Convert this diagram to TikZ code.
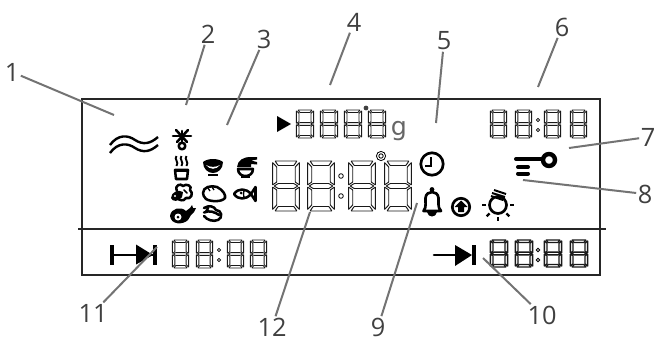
\documentclass[tikz,border=0pt]{standalone}
\usepackage{fontspec}
\setmainfont{Open Sans}
\newfontfamily\unitfont{DejaVu Sans}
\usetikzlibrary{calc}
\tikzset{
  callout/.style={text=black!75,font=\fontsize{19}{21}\selectfont,inner sep=1pt},
  leader/.style={draw=black!55,line width=1.5pt},
  seg/.style={draw=black!90,rounded corners=.3pt},
  ico/.style={line width=1.9pt,line cap=round,line join=round}
}
% one seven segment digit, #1 #2 top left corner, #3 #4 size, #5 line width
\newcommand{\lcddigit}[5]{
\begin{scope}[shift={(#1,#2)},xscale=#3,yscale=#4,seg,line width=#5]
\draw (.11,0) -- (.89,0) -- (.78,.09) -- (.22,.09) -- cycle;
\draw (.11,1) -- (.89,1) -- (.78,.91) -- (.22,.91) -- cycle;
\draw (.08,.5) -- (.22,.45) -- (.78,.45) -- (.92,.5) -- (.78,.55) -- (.22,.55) -- cycle;
\draw (.02,.03) -- (.17,.12) -- (.17,.42) -- (.02,.48) -- cycle;
\draw (.98,.03) -- (.83,.12) -- (.83,.42) -- (.98,.48) -- cycle;
\draw (.02,.97) -- (.17,.88) -- (.17,.58) -- (.02,.52) -- cycle;
\draw (.98,.97) -- (.83,.88) -- (.83,.58) -- (.98,.52) -- cycle;
\end{scope}}
\begin{document}
\begin{tikzpicture}[x=.75pt,y=-.75pt]
\useasboundingbox (0,0) rectangle (656,339);

% frame
\draw[line width=.9pt,black!85] (82,99) rectangle (600,275);

\draw[line width=2.1pt,black!85] (78,229) -- (606,229);

% digits
\foreach \x in {272,307,348,384} \lcddigit{\x}{161}{28}{50}{.7pt};

\foreach \x in {296,320,344,368} \lcddigit{\x}{110}{18}{28}{.65pt};

\foreach \x in {490,515,544,570} \lcddigit{\x}{110}{17}{28}{.65pt};

\foreach \x in {172,196,227,250} \lcddigit{\x}{240}{17}{28}{.65pt};

\foreach \x in {490,515,544,570} \lcddigit{\x}{240}{18}{27}{1pt};

% colons
\foreach \x/\y/\r in {341/176/2.3,341/196/2.3,538/120/1.6,538/130/1.6,219/250/1.6,219/260/1.6,538/250/1.7,538/260/1.7}
\draw[line width=.6pt] (\x,\y) circle (\r);

\draw[line width=.6pt] (381,156) circle (4.6);
\draw[line width=.6pt] (381,156) circle (2.2);

% weight line
\fill (277,116) -- (291,124) -- (277,132) -- cycle;

\fill[black!75] (366,108) circle (2.4);

\node(unit) at (399,131) [text=black!60,font=\unitfont\fontsize{19}{21}\selectfont,inner sep=0pt]{g};

% waves
\draw[line width=1.8pt] (110,145) .. controls (118,134) and (128,135) .. (135,140) .. controls (143,145) and (150,144) .. (158,137);
\draw[line width=1.8pt] (110,153) .. controls (118,142) and (128,143) .. (135,148) .. controls (143,153) and (150,152) .. (158,145);

% defrost
\draw[ico] (173,136) -- (191,136);
\draw[ico] (176,130) -- (187,142);
\draw[ico] (188,130) -- (177,142);
\draw[ico] (182,131) -- (182,142);
\draw[ico] (182,146) circle (3.300);

% steam cup
\draw[ico] (175,170) -- (188,170) -- (187,179) -- (176,179) -- cycle;
\draw[line width=2.600pt] (174,170.500) -- (189,170.500);
\foreach \x in {176.500,181.500,186.500}
\draw[line width=1.400pt] (\x,156) .. controls (\x-3,159) and (\x+3,162) .. (\x,166);

% bowl
\fill (203,162) .. controls (208,158) and (218,158) .. (223,162) .. controls (223,169) and (218,173) .. (213,173) .. controls (208,173) and (203,169) .. (203,162) -- cycle;
\fill[white] (206,165) .. controls (210,170) and (216,170) .. (220,165) .. controls (216,167.500) and (210,167.500) .. (206,165) -- cycle;
\fill (208,174) rectangle (218,176);

% noodle bowl
\fill (237,167) .. controls (238,160) and (243,157) .. (251,157) -- (257,157) -- (257,159.500) -- (251,160.500) -- (257,162) -- (257,164.500) -- (251,164) -- (251,167) -- cycle;
\draw[ico] (238,169) -- (253,169) .. controls (253,174) and (249,176) .. (245.500,176) .. controls (242,176) and (238,174) .. (238,169) -- cycle;
\fill (241,176) rectangle (250,178);

% broccoli
\draw[ico] (177,191) .. controls (174,185) and (181,183) .. (183,186) .. controls (186,183) and (193,186) .. (190,190) .. controls (194,193) and (191,200) .. (186,198) .. controls (184,202) and (178,200) .. (178,198);
\fill (171,198) .. controls (171,192) and (179,189) .. (183,192) -- (182,197) .. controls (179,202) and (172,202) .. (171,198) -- cycle;
\fill[white] (175,196) circle (1.200);
\draw[ico,line width=1.100pt] (184,190) -- (187,193);

% bread
\draw[ico] (203,193) .. controls (203,187) and (211,185) .. (217,187) .. controls (223,190) and (226,195) .. (225,198) .. controls (222,202) and (211,202) .. (206,199) .. controls (204,197) and (203,195) .. (203,193) -- cycle;
\draw[line width=1pt] (208,188) -- (210,191);
\draw[line width=1pt] (212,187) -- (214,190);

% fish
\draw[ico] (234,194) .. controls (238,188) and (246,188) .. (251,194) .. controls (246,200) and (238,200) .. (234,194) -- cycle;
\draw[ico] (251,194) -- (255.500,187) -- (255.500,201) -- cycle;
\fill (241,193) circle (1.500);
\draw[line width=1pt] (245,189) .. controls (243,192) and (243,196) .. (245,199);

% chicken
\fill (170,216) .. controls (171,208) and (181,206) .. (186,211) -- (190,208) -- (192,205) -- (193,208) -- (196,208) -- (194,212) -- (191,215) -- (188,220) .. controls (183,225) and (171,225) .. (170,216) -- cycle;
\fill[white] (178,217) circle (3.500);
\fill (178,217) circle (1.500);

% shrimp
\draw[ico] (204,208) .. controls (209,205) and (214,206) .. (216,210) .. controls (222,210) and (223,218) .. (218,220) .. controls (213,222) and (207,220) .. (204,216);
\draw[ico] (204,212.500) .. controls (209,210) and (215,212) .. (219,215);
\draw[ico] (208,208) -- (206,212);

% clock
\draw[line width=2pt] (432,164) circle (11.200);
\draw[line width=1.600pt] (431,157) -- (431,166) -- (425,166);

% bell
\draw[line width=2pt,line join=round] (423.500,211) .. controls (427,207) and (425,201) .. (425.500,198) .. controls (426,190) and (438,190) .. (438.500,198) .. controls (439,201) and (437,207) .. (441,211) -- cycle;
\fill (432,189.500) circle (2.400);
\fill (427,212) .. controls (428,218) and (436,218) .. (437,212) -- cycle;

% up arrow
\draw[line width=2pt] (461,207) circle (8.700);
\fill (461,200.500) -- (467.500,207) -- (464,207) -- (464,212) -- (458,212) -- (458,207) -- (454.500,207) -- cycle;

% lamp
\draw[line width=2pt] (498,205) circle (8.500);
\foreach \a in {0,45,90,135,180}
\draw[line width=1.700pt] ($(498,205)+(\a:12)$) -- ($(498,205)+(\a:16)$);
\draw[line width=1.500pt] (492,193) -- (505,197);
\draw[line width=1.500pt] (494,190) -- (506,194);
\draw[line width=1.500pt] (491,196) -- (503,200);

% key
\draw[line width=3pt,line cap=round] (516,159) -- (542,159);
\draw[line width=3.300pt] (549,160) circle (6);
\draw[line width=3pt,line cap=round] (518,167) -- (528,167);
\draw[line width=3pt,line cap=round] (518,173.500) -- (528,173.500);

% arrows in the bottom row
\fill (110,245) rectangle (114,265);
\fill (153,245) rectangle (157,265);
\draw[line width=2pt] (113,255) -- (154,255);
\fill (136,244.500) -- (153,255) -- (136,264.500) -- cycle;
\draw[line width=2pt,line cap=round] (434,255) -- (460,255);
\fill (455,245) -- (472,255) -- (455,266) -- cycle;
\fill (472,245) rectangle (476,265);

% callouts
\node(n1) at (12,72) [callout]{1};

\node(n2) at (208,34) [callout]{2};

\node(n3) at (264,39) [callout]{3};

\node(n4) at (354,22) [callout]{4};

\node(n5) at (444,41) [callout]{5};

\node(n6) at (562,27) [callout]{6};

\node(n7) at (648,137) [callout]{7};

\node(n8) at (645,194) [callout]{8};

\node(n9) at (378,327) [callout]{9};

\node(n10) at (542,315) [callout]{10};

\node(n11) at (93,313) [callout]{11};

\node(n12) at (272,327) [callout]{12};

\coordinate(e1) at (114,115);
\coordinate(e2) at (186,105);
\coordinate(e3) at (227,125);
\coordinate(e4) at (330,85);
\coordinate(e5) at (436,123);
\coordinate(e6) at (538,87);
\coordinate(e7) at (569,148);
\coordinate(e8) at (523,180);
\coordinate(e9) at (417,203);
\coordinate(e10) at (483,258);
\coordinate(e11) at (157,247);
\coordinate(e12) at (310,212);

\draw [leader] (n1) -- (e1);
\draw [leader] (n2) -- (e2);
\draw [leader] (n3) -- (e3);
\draw [leader] (n4) -- (e4);
\draw [leader] (n5) -- (e5);
\draw [leader] (n6) -- (e6);
\draw [leader] (n7) -- (e7);
\draw [leader] (n8) -- (e8);
\draw [leader] (n9) -- (e9);
\draw [leader] (n10) -- (e10);
\draw [leader] (n11) -- (e11);
\draw [leader] (n12) -- (e12);

\end{tikzpicture}
\end{document}
